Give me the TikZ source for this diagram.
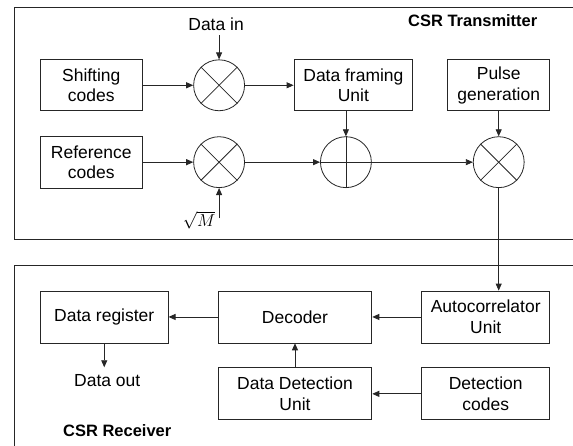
\documentclass[tikz,border=0pt]{standalone}
\usepackage{fontspec}
\setmainfont{Liberation Sans}
\usetikzlibrary{arrows.meta}
\begin{document}
\begin{tikzpicture}[x=1pt,y=-1pt,
  line width=0.8pt,
  every path/.style={draw=black!85},
  blk/.style={draw=black!85, rectangle, inner sep=0pt, align=center,
    font=\fontsize{17.5}{20.5}\selectfont},
  mult/.style={draw=black!85, circle, minimum size=51pt, inner sep=0pt},
  lbl/.style={font=\fontsize{17.5}{20.5}\selectfont, inner sep=0pt},
  ttl/.style={font=\bfseries\fontsize{16.5}{19}\selectfont, inner sep=0pt},
  arr/.style={-{Triangle[length=7pt,width=6pt]}, draw=black!85}
]
\useasboundingbox (0,0) rectangle (573,445);
\fill[white] (0,0) rectangle (573,445);
% enclosures
\draw (14,7) rectangle (590,239);
\draw (14,265) rectangle (590,460);
\node[ttl] (tt) at (473,20) {CSR Transmitter};
\node[ttl] (rt) at (117,431) {CSR Receiver};
% transmitter blocks
\node[blk, minimum width=102pt, minimum height=51pt] (shift) at (91,85) {Shifting\\codes};
\node[blk, minimum width=102pt, minimum height=52pt] (ref) at (91,162) {Reference\\codes};
\node[blk, minimum width=119pt, minimum height=51pt] (frame) at (353.5,85) {Data framing\\Unit};
\node[blk, minimum width=102pt, minimum height=51pt] (pulse) at (499,85) {Pulse\\generation};
\node[mult] (m1) at (219,85) {};
\node[mult] (m2) at (219,162) {};
\node[mult] (add) at (346,162) {};
\node[mult] (m3) at (499,162) {};
\foreach \m in {m1,m2,m3}{
  \draw (\m.45) -- (\m.225);
  \draw (\m.135) -- (\m.315);
}
\draw (add.north) -- (add.south);
\draw (add.west) -- (add.east);
\node[lbl] (din) at (216,24) {Data in};
\node[inner sep=0pt] (sq) at (199,220) {\fontsize{16.5}{18}\selectfont$\sqrt{M}$};
\coordinate (dinc) at (219,35);
\coordinate (sqc) at (219,218);
\draw[arr] (dinc) -- (m1.north);
\draw[arr] (sqc) -- (m2.south);
\draw[arr] (shift) -- (m1);
\draw[arr] (m1) -- (frame);
\draw[arr] (ref) -- (m2);
\draw[arr] (m2) -- (add);
\draw[arr] (frame.south -| add.north) -- (add.north);
\draw[arr] (add) -- (m3);
\draw[arr] (pulse) -- (m3);
% receiver blocks
\node[blk, minimum width=128pt, minimum height=52pt] (reg) at (104,317) {Data register};
\node[blk, minimum width=154pt, minimum height=52pt] (dec) at (295,317) {Decoder};
\node[blk, minimum width=128pt, minimum height=52pt] (auto) at (486,317) {Autocorrelator\\Unit};
\node[blk, minimum width=154pt, minimum height=52pt] (ddu) at (295,394) {Data Detection\\Unit};
\node[blk, minimum width=128pt, minimum height=52pt] (dcode) at (486,394) {Detection\\codes};
\node[lbl] (dout) at (107,381) {Data out};
\draw[arr] (m3.south) -- (m3.south |- auto.north);
\draw[arr] (auto) -- (dec);
\draw[arr] (dec) -- (reg);
\draw[arr] (dcode) -- (ddu);
\draw[arr] (ddu) -- (dec);
\draw[arr] (reg.south) -- ++(0,24);
\end{tikzpicture}
\end{document}
